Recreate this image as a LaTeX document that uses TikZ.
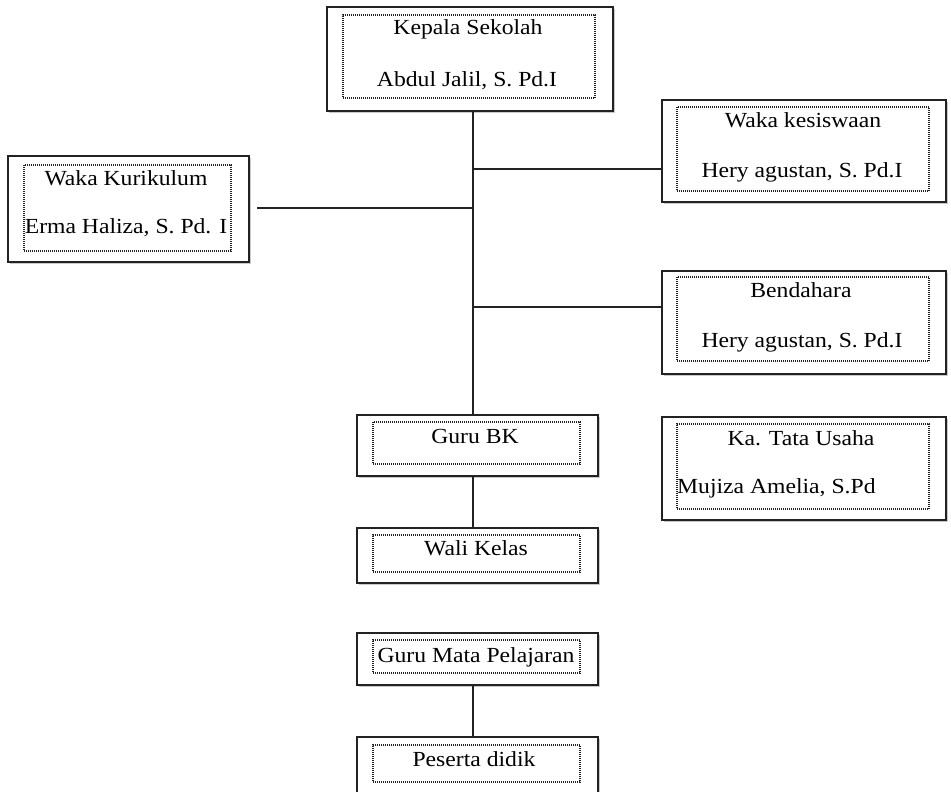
\documentclass[tikz,border=0pt]{standalone}
\usepackage{fontspec}
\setmainfont{Liberation Serif}
\usetikzlibrary{fit,shadows}
\newcommand{\tx}[1]{\scalebox{1.1}[1]{#1}}
\definecolor{ink}{HTML}{222222}
\tikzset{
  outerbox/.style={draw=ink, line width=1.6pt, fill=white, inner sep=0pt,
    drop shadow={shadow xshift=2pt, shadow yshift=-2pt, fill=gray!70, opacity=0.6}},
  innerbox/.style={draw=ink, line width=1.3pt, dash pattern=on 1pt off 1pt, inner sep=0pt},
  conn/.style={draw=ink, line width=1.5pt},
  lbl/.style={inner sep=0pt, font=\fontsize{21.5}{24}\selectfont, text=black}
}
\begin{document}
\begin{tikzpicture}[x=1pt,y=-1pt]
\useasboundingbox (0,0) rectangle (951,792);
\clip (0,0) rectangle (951,792);
\fill[white] (0,0) rectangle (951,792);
% outer boxes
\node[outerbox, fit={(327,7)(613,111)}] (ks) {};
\node[outerbox, fit={(8,156)(249,262)}] (wk) {};
\node[outerbox, fit={(662,100)(946,202)}] (wks) {};
\node[outerbox, fit={(662,271)(946,374)}] (bd) {};
\node[outerbox, fit={(662,417)(946,520)}] (tu) {};
\node[outerbox, fit={(357,415)(598,476)}] (bk) {};
\node[outerbox, fit={(357,528)(598,583)}] (wl) {};
\node[outerbox, fit={(357,633)(598,685)}] (mp) {};
\node[outerbox, fit={(357,737)(598,800)}] (pd) {};
% inner dotted frames
\node[innerbox, fit={(343,15)(595,98)}] (ksi) {};
\node[innerbox, fit={(24,165)(231,251)}] (wki) {};
\node[innerbox, fit={(677,107)(929,191)}] (wksi) {};
\node[innerbox, fit={(677,277)(929,361)}] (bdi) {};
\node[innerbox, fit={(677,424)(929,509)}] (tui) {};
\node[innerbox, fit={(373,422)(580,464)}] (bki) {};
\node[innerbox, fit={(373,535)(580,572)}] (wli) {};
\node[innerbox, fit={(373,640)(580,673)}] (mpi) {};
\node[innerbox, fit={(373,745)(580,782)}] (pdi) {};
% texts
\node[lbl, anchor=base] (ks1) at (468,35) {\tx{Kepala Sekolah}};
\node[lbl, anchor=base] (ks2) at (467,87) {\tx{Abdul Jalil, S. Pd.I}};
\node[lbl, anchor=base] (wk1) at (126,185) {\tx{Waka Kurikulum}};
\node[lbl, anchor=base] (wk2) at (126,233) {\tx{Erma Haliza, S. Pd. I}};
\node[lbl, anchor=base] (wks1) at (803,127) {\tx{Waka kesiswaan}};
\node[lbl, anchor=base] (wks2) at (802,177) {\tx{Hery agustan, S. Pd.I}};
\node[lbl, anchor=base] (bd1) at (801,297) {\tx{Bendahara}};
\node[lbl, anchor=base] (bd2) at (802,347) {\tx{Hery agustan, S. Pd.I}};
\node[lbl, anchor=base] (tu1) at (801,445) {\tx{Ka. Tata Usaha}};
\node[lbl, anchor=base west] (tu2) at (677,493) {\tx{Mujiza Amelia, S.Pd}};
\node[lbl, anchor=base] (bk1) at (475,443) {\tx{Guru BK}};
\node[lbl, anchor=base] (wl1) at (476,555) {\tx{Wali Kelas}};
\node[lbl, anchor=base] (mp1) at (476,662) {\tx{Guru Mata Pelajaran}};
\node[lbl, anchor=base] (pd1) at (474,766) {\tx{Peserta didik}};
% connectors
\coordinate (j1) at (473,169);
\coordinate (j2) at (473,208);
\coordinate (j3) at (473,307);
\coordinate (wkend) at (257,208);
\draw[conn] (ks.south -| j1) -- (bk.north -| j1);
\draw[conn] (j1) -- (j1 -| wks.west);
\draw[conn] (j3) -- (j3 -| bd.west);
\draw[conn] (j2) -- (wkend);
\draw[conn] (bk.south -| j1) -- (wl.north -| j1);
\draw[conn] (mp.south -| j1) -- (pd.north -| j1);
\end{tikzpicture}
\end{document}
